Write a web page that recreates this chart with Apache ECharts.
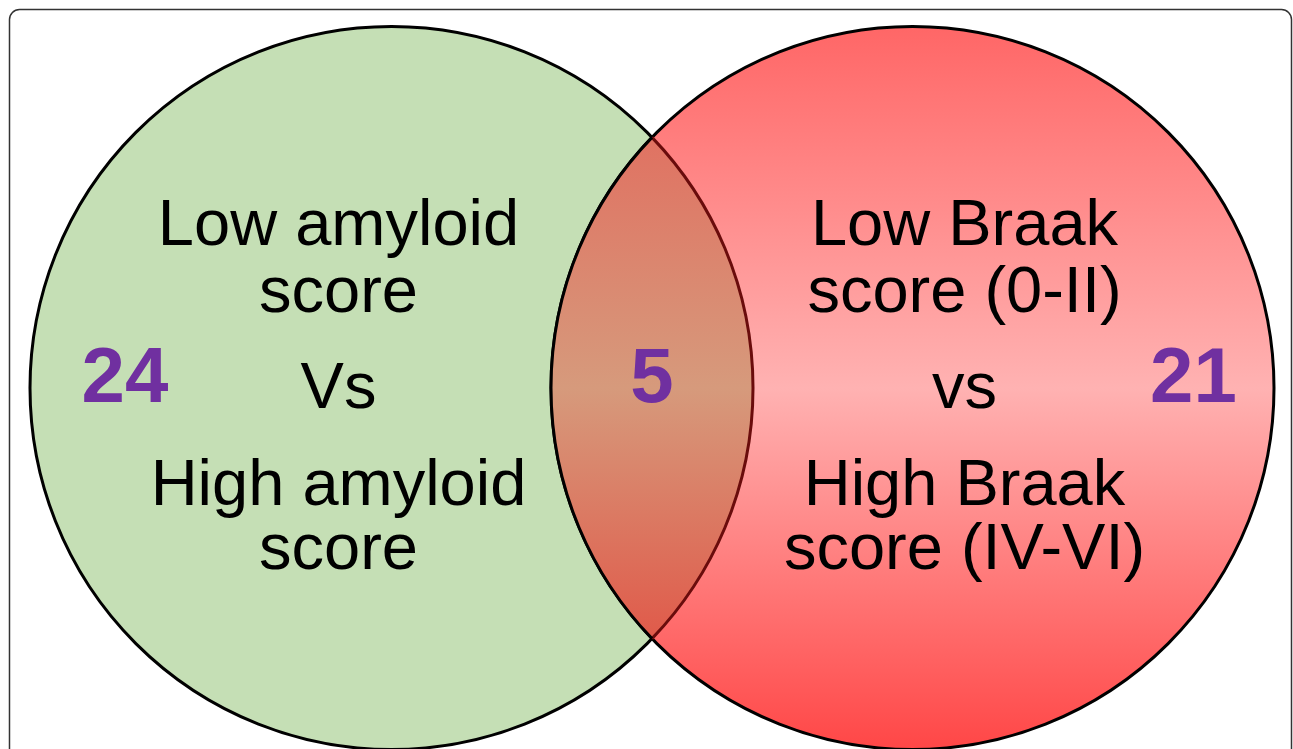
<!DOCTYPE html>
<html>
<head>
<meta charset="utf-8">
<title>Venn diagram</title>
<script src="https://cdn.jsdelivr.net/npm/echarts@6/dist/echarts.min.js"></script>
<style>
  html, body { margin: 0; padding: 0; background: #fff; }
  #chart { width: 1293px; height: 749px; }
</style>
</head>
<body>
<div id="chart"></div>
<script>
// sets: circle centre and radius in chart units (x 0..1293, y 0..749 top-down)
var setNames = ['amyloid', 'Braak']
var setCenterX = [391.5, 912.5]
var setCenterY = [388, 388]
var setRadius = [361.5, 361.5]

// counts: only in left set, shared, only in right set
var countValues = [24, 5, 21]

// text inside each circle, one entry per line
var leftLines = ['Low amyloid', 'score', 'Vs', 'High amyloid', 'score']
var rightLines = ['Low Braak', 'score (0-II)', 'vs', 'High Braak', 'score (IV-VI)']

// where the text sits (layout, not data)
var lineBaselines = [245, 312, 408, 505, 569]
var textCenterX = [338.5, 964.5]
var countX = [125, 652, 1193.5]
var countBaseline = 403

var FONT = '"Liberation Sans", Arial, Helvetica, sans-serif'

var greenFill = '#c5dfb5'
var redFill = new echarts.graphic.LinearGradient(0, 0, 0, 1, [
  { offset: 0, color: '#ff6666' },
  { offset: 0.5, color: '#ffb2b2' },
  { offset: 1, color: '#ff4646' }
])
var lensFill = new echarts.graphic.LinearGradient(0, 0, 0, 1, [
  { offset: 0, color: '#e07262' },
  { offset: 0.5, color: '#d69a7c' },
  { offset: 1, color: '#e05a4a' }
])

var circleData = setNames.map(function(name, i) {
  return [setCenterX[i], setCenterY[i], setRadius[i]]
})

var chart = echarts.init(document.getElementById('chart'))

function renderCircle(params, api) {
  var c = api.coord([api.value(0), api.value(1)])
  var r = api.size([api.value(2), 0])[0]
  return {
    type: 'circle',
    shape: { cx: c[0], cy: c[1], r: r },
    style: {
      fill: params.dataIndex === 0 ? greenFill : redFill,
      stroke: '#000',
      lineWidth: 3
    }
  }
}

function renderLens(params, api) {
  var a = api.coord([setCenterX[0], setCenterY[0]])
  var b = api.coord([setCenterX[1], setCenterY[1]])
  var ra = api.size([setRadius[0], 0])[0]
  var rb = api.size([setRadius[1], 0])[0]
  var d = b[0] - a[0]
  var xi = (d * d + ra * ra - rb * rb) / (2 * d)
  var h = Math.sqrt(ra * ra - xi * xi)
  var px = a[0] + xi
  var top = [px, a[1] - h]
  var bot = [px, a[1] + h]
  var angA = Math.atan2(-h, xi)
  var angB = Math.atan2(h, xi - d)
  var pathData = 'M' + top[0] + ',' + top[1] +
    ' A' + ra + ',' + ra + ' 0 0 1 ' + bot[0] + ',' + bot[1] +
    ' A' + rb + ',' + rb + ' 0 0 1 ' + top[0] + ',' + top[1] + ' Z'
  return {
    type: 'group',
    children: [
      {
        type: 'path',
        shape: { pathData: pathData },
        style: { fill: lensFill, stroke: null }
      },
      {
        type: 'arc',
        shape: { cx: a[0], cy: a[1], r: ra, startAngle: angA, endAngle: -angA, clockwise: true },
        style: { fill: null, stroke: '#6a0c0c', lineWidth: 3 }
      },
      {
        type: 'arc',
        shape: { cx: b[0], cy: b[1], r: rb, startAngle: angB, endAngle: 2 * Math.PI - angB, clockwise: true },
        style: { fill: null, stroke: '#000', lineWidth: 3 }
      }
    ]
  }
}

function renderLabels(params, api) {
  var children = []
  var size = 65
  ;[leftLines, rightLines].forEach(function(lines, s) {
    lines.forEach(function(txt, i) {
      var p = api.coord([textCenterX[s], lineBaselines[i]])
      children.push({
        type: 'text',
        x: p[0],
        y: p[1] - size * 0.27,
        style: {
          text: txt,
          font: size + 'px ' + FONT,
          fill: '#000',
          align: 'center',
          verticalAlign: 'middle'
        }
      })
    })
  })
  var numSize = 78
  countValues.forEach(function(v, i) {
    var p = api.coord([countX[i], countBaseline])
    children.push({
      type: 'text',
      x: p[0],
      y: p[1] - numSize * 0.29,
      style: {
        text: String(v),
        font: 'bold ' + numSize + 'px ' + FONT,
        fill: '#7030a0',
        align: 'center',
        verticalAlign: 'middle'
      }
    })
  })
  return { type: 'group', children: children }
}

chart.setOption({
  backgroundColor: '#fff',
  animation: false,
  grid: { left: 0, right: 0, top: 0, bottom: 0 },
  xAxis: { type: 'value', min: 0, max: 1293, show: false },
  yAxis: { type: 'value', min: 0, max: 749, inverse: true, show: false },
  graphic: [
    {
      type: 'rect',
      z: 0,
      shape: { x: 9.5, y: 9.5, width: 1282, height: 780, r: 10 },
      style: { fill: null, stroke: '#333', lineWidth: 1.5 }
    }
  ],
  series: [
    {
      type: 'custom',
      name: 'sets',
      silent: true,
      clip: false,
      data: circleData,
      renderItem: renderCircle
    },
    {
      type: 'custom',
      name: 'overlap',
      silent: true,
      clip: false,
      data: [[countX[1], countBaseline, countValues[1]]],
      renderItem: renderLens
    },
    {
      type: 'custom',
      name: 'labels',
      silent: true,
      clip: false,
      data: [[0, 0]],
      renderItem: renderLabels
    }
  ]
})
</script>
</body>
</html>
